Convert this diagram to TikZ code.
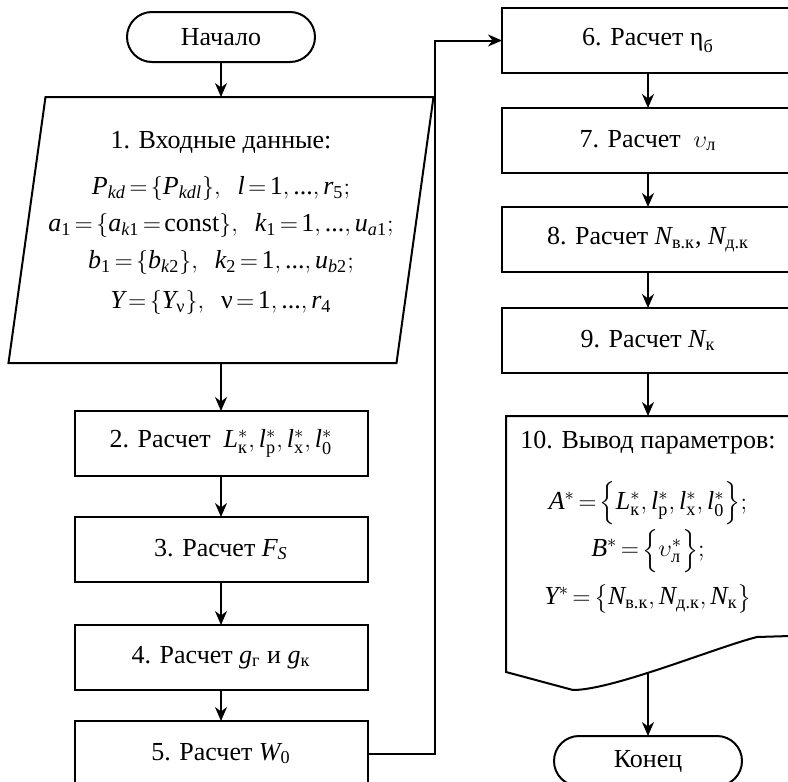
\documentclass[tikz,border=0pt]{standalone}
\usepackage{amsmath}
\usepackage{mathspec}
\setallmainfonts(Digits,Latin){Liberation Serif}
\thickmuskip=2.5mu plus 2mu
\medmuskip=2mu plus 1mu
\usetikzlibrary{positioning, arrows.meta}

\tikzset{
  txt/.style={font=\fontsize{13}{15.5}\selectfont},
  blk/.style={txt, draw, line width=1pt, outer sep=0pt, minimum width=146.5pt, minimum height=32.5pt, inner sep=2pt},
  term/.style={txt, draw, line width=1pt, outer sep=0pt, rounded corners=12.5pt, minimum width=94pt, minimum height=25pt},
  inbox/.style={inner sep=0pt, outer sep=0pt, minimum width=212.5pt, minimum height=133pt},
  outbox/.style={inner sep=0pt, outer sep=0pt, minimum width=142pt, minimum height=128pt},
  frame/.style={line width=1pt},
  arr/.style={line width=1pt, -{Stealth[length=7pt, width=6pt]}},
}

\begin{document}
\begin{tikzpicture}[node distance=18pt]
  \useasboundingbox (0,0) rectangle (394pt,-391pt);
  \clip (0,0) rectangle (394pt,-391pt);
  % left column
  \node[term] (start) at (110.5pt,-18.5pt) {Начало};
  \node[inbox, below=17.5pt of start] (input) {};
  \draw[frame] ([xshift=18.5pt]input.north west) -- (input.north east)
    -- ([xshift=-18.5pt]input.south east) -- (input.south west) -- cycle;
  \node[align=center, font=\fontsize{13}{18.5}\selectfont] (intext) at ([yshift=3.5pt]input.center)
    {1. Входные данные:\\[4.5pt]
     $P_{kd}=\{P_{kdl}\},\ \ l=1, \text{...}, r_5;$\\
     $a_1=\{a_{k1}=\text{const}\},\ \ k_1=1, \text{...}, u_{a1};$\\
     $b_1=\{b_{k2}\},\ \ k_2=1, \text{...}, u_{b2};$\\[1.5pt]
     $Y=\{Y_{\text{ν}}\},\ \ \text{ν}=1, \text{...}, r_4$};
  \node[blk, below=24pt of input] (calc2)
    {2. Расчет \ $L^*_{\text{к}}, l^*_{\text{р}}, l^*_{\text{х}}, l^*_0$};
  \node[blk, below=20.5pt of calc2] (calc3) {3. Расчет $F_S$};
  \node[blk, below=21.5pt of calc3] (calc4) {4. Расчет $g_{\text{г}}$ и $g_{\text{к}}$};
  \node[blk, below=15.5pt of calc4] (calc5) {5. Расчет $W_0$};
  % right column
  \node[blk, minimum width=146pt] (calc6) at (324pt,-20.25pt) {6. Расчет $\text{η}_{\text{б}}$};
  \node[blk, minimum width=146pt, below=17.5pt of calc6] (calc7) {7. Расчет \ $\upsilon_{\text{л}}$};
  \node[blk, minimum width=146pt, below=17pt of calc7] (calc8)
    {8. Расчет $N_{\text{в.к}}$, $N_{\text{д.к}}$};
  \node[blk, minimum width=146pt, below=18pt of calc8] (calc9) {9. Расчет $N_{\text{к}}$};
  \node[outbox, below=21.5pt of calc9] (out) {};
  \node[txt, align=center, below=4pt of out.north] (outtext)
    {10. Вывод параметров:\\[13pt]
     $A^*=\Bigl\{L^*_{\text{к}}, l^*_{\text{р}}, l^*_{\text{х}}, l^*_0\Bigr\};$\\[1pt]
     $B^*=\Bigl\{\upsilon^*_{\text{л}}\Bigr\};$\\[5pt]
     $Y^*=\bigl\{N_{\text{в.к}}, N_{\text{д.к}}, N_{\text{к}}\bigr\}$};
  \draw[frame] ([shift={(142pt,18pt)}]out.south west)
    -- ([shift={(125.5pt,17.5pt)}]out.south west)
    .. controls ([shift={(105.5pt,12.5pt)}]out.south west)
       and ([shift={(53.5pt,-9pt)}]out.south west)
    .. ([shift={(33.5pt,-9pt)}]out.south west)
    -- (out.south west) -- (out.north west) -- (out.north east)
    -- ([shift={(142pt,18pt)}]out.south west);
  \node[term, below=32pt of out] (end) {Конец};
  % connectors
  \draw[arr] (start) -- (input);
  \draw[arr] (input) -- (calc2);
  \draw[arr] (calc2) -- (calc3);
  \draw[arr] (calc3) -- (calc4);
  \draw[arr] (calc4) -- (calc5);
  \coordinate[right=33.5pt of calc5.east] (turn);
  \draw[arr] (calc5.east) -- (turn) |- (calc6.west);
  \draw[arr] (calc6) -- (calc7);
  \draw[arr] (calc7) -- (calc8);
  \draw[arr] (calc8) -- (calc9);
  \draw[arr] (calc9) -- (out);
  \draw[arr] (out.south) -- (end);
\end{tikzpicture}
\end{document}
